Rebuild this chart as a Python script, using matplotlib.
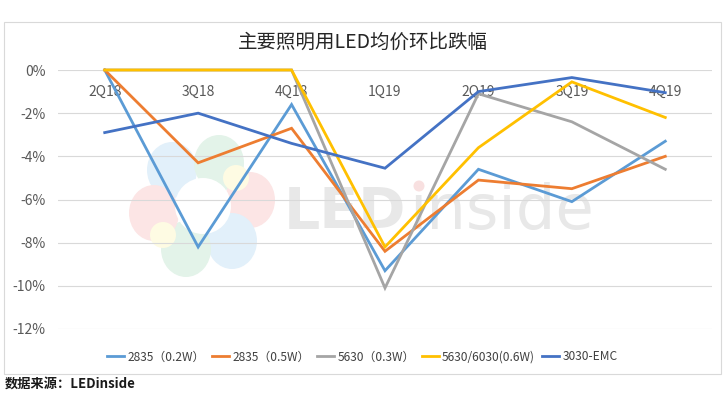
import matplotlib
matplotlib.use("Agg")
import matplotlib.pyplot as plt
from matplotlib.patches import Ellipse, Circle, Rectangle
from matplotlib.ticker import FuncFormatter

plt.rcParams["font.family"] = ["Noto Sans CJK SC", "DejaVu Sans"]

# -------------------------- Data --------------------------
quarters = ["2Q18", "3Q18", "4Q18", "1Q19", "2Q19", "3Q19", "4Q19"]

s2835_02 = [0.0, -8.2, -1.6, -9.3, -4.6, -6.1, -3.3]
s2835_05 = [0.0, -4.3, -2.7, -8.4, -5.1, -5.5, -4.0]
s5630_03 = [0.0, 0.0, 0.0, -10.1, -1.1, -2.4, -4.6]
s5630_6030 = [0.0, 0.0, 0.0, -8.2, -3.6, -0.55, -2.2]
s3030_emc = [-2.9, -2.0, -3.4, -4.55, -1.0, -0.35, -1.05]

series_names = ["2835（0.2W）", "2835（0.5W）", "5630（0.3W）", "5630/6030(0.6W)", "3030-EMC"]
series_vals = [s2835_02, s2835_05, s5630_03, s5630_6030, s3030_emc]
colors = ["#5B9BD5", "#ED7D31", "#A5A5A5", "#FFC000", "#4472C4"]

yticks = [0, -2, -4, -6, -8, -10, -12]

# -------------------------- Figure --------------------------
fig = plt.figure(figsize=(7.25, 3.95), dpi=100)

# background layer in pixel units: border + watermark
bg = fig.add_axes([0, 0, 1, 1], zorder=0)
bg.set_xlim(0, 725)
bg.set_ylim(395, 0)
bg.axis("off")
bg.add_patch(Rectangle((4, 22), 717, 352, fill=False, edgecolor="#D9D9D9", linewidth=0.8))

# faint petal logo
petals = [
    (172, 170, "#E2F0FA"),
    (219, 163, "#E3F3E9"),
    (250, 200, "#FCE5E5"),
    (232, 241, "#E2F0FA"),
    (186, 249, "#E3F3E9"),
    (154, 213, "#FCE5E5"),
]
for px, py, c in petals:
    bg.add_patch(Ellipse((px, py), 50, 56, facecolor=c, edgecolor="none"))
for px, py in [(236, 178), (163, 235)]:
    bg.add_patch(Circle((px, py), 13, facecolor="#FEFBE3", edgecolor="none"))
bg.add_patch(Circle((203, 206), 28, facecolor="white", edgecolor="none"))

# LEDinside text
bg.text(284, 229, "LED", fontsize=41, fontweight="bold", color="#E8E8E8",
        family=["DejaVu Sans"], ha="left", va="baseline")
bg.text(409, 229, "\u0131nside", fontsize=45, color="#E8E8E8",
        family=["DejaVu Sans"], ha="left", va="baseline")
bg.add_patch(Circle((419, 186), 5.5, facecolor="#F8E0E0", edgecolor="none"))

ax = fig.add_axes([58 / 725, 1 - 329 / 395, 654 / 725, 259 / 395], zorder=1)
ax.patch.set_alpha(0)

for name, vals, col in zip(series_names, series_vals, colors):
    ax.plot(range(len(quarters)), vals, color=col, linewidth=2.0,
            label=name, clip_on=False, zorder=3, solid_joinstyle="miter")

ax.set_xlim(-0.5, len(quarters) - 0.5)
ax.set_ylim(-12, 0)
ax.set_yticks(yticks)
ax.yaxis.set_major_formatter(FuncFormatter(lambda v, p: f"{v:.0f}%"))
ax.grid(axis="y", color="#D9D9D9", linewidth=0.8)
ax.set_axisbelow(True)

ax.set_xticks(range(len(quarters)))
ax.set_xticklabels(quarters)
ax.xaxis.set_ticks_position("top")
ax.tick_params(axis="x", length=0, pad=-21, labelsize=10, labelcolor="#595959")
ax.tick_params(axis="y", length=0, pad=9, labelsize=10, labelcolor="#595959")
for sp in ax.spines.values():
    sp.set_visible(False)

fig.text(0.5, 1 - 42 / 395, "主要照明用LED均价环比跌幅", ha="center", va="center",
         fontsize=14, color="#262626")

fig.legend(loc="center", bbox_to_anchor=(0.5, 1 - 357 / 395), ncol=5,
           frameon=False, fontsize=8.6, handlelength=1.4, handletextpad=0.3,
           columnspacing=0.6, labelcolor="#404040")

fig.text(5 / 725, 1 - 384 / 395, "数据来源：LEDinside", ha="left", va="center",
         fontsize=9.5, fontweight="bold", color="#1A1A1A")

fig.savefig("out.png", dpi=100)
